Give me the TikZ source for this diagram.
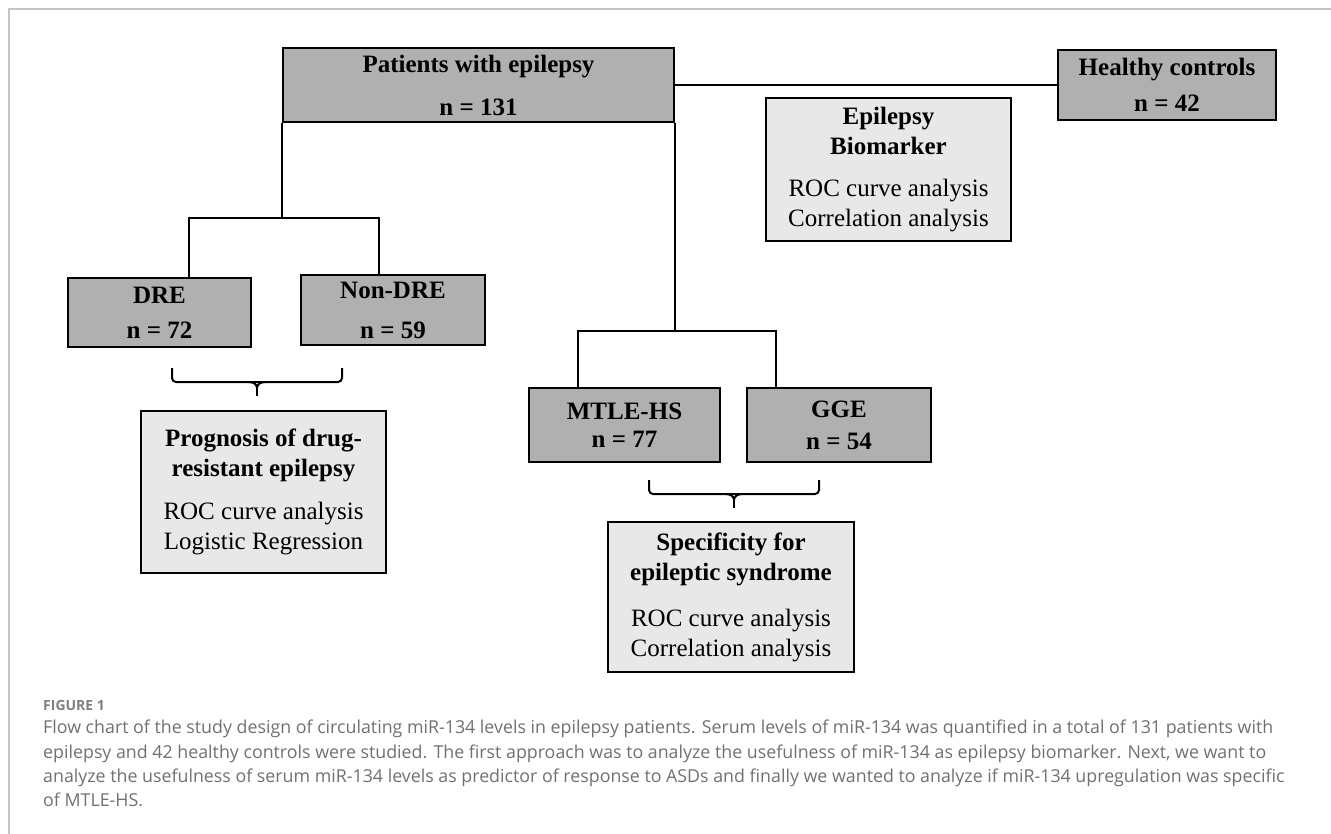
\documentclass[tikz,border=0pt]{standalone}
\usepackage{fontspec}
\setmainfont{Liberation Serif}
\newfontfamily\captionfont{Open Sans}
\usetikzlibrary{positioning}
\definecolor{boxdark}{RGB}{176,176,176}
\definecolor{boxlight}{RGB}{232,232,232}
\definecolor{framegray}{RGB}{195,195,195}
\definecolor{captiongray}{RGB}{112,112,112}

\begin{document}
\begin{tikzpicture}[x=1pt,y=-1pt,
    group/.style={draw=black,line width=2.4pt,fill=boxdark,inner sep=0pt,align=center,
      font=\fontsize{25}{30}\selectfont\bfseries},
    result/.style={draw=black,line width=2.4pt,fill=boxlight,inner sep=0pt,align=center,
      font=\fontsize{25}{30}\selectfont},
    link/.style={line width=2.2pt},
    bracket/.style={line width=2pt,rounded corners=4pt}]
  \useasboundingbox (0,0) rectangle (1331,834);
  \draw[framegray,line width=1.2pt] (1331,9) -- (9,9) -- (9,834);

  % cohorts
  \node[group,minimum width=391pt,minimum height=74pt] (pat) at (478.5,85) {Patients with epilepsy\\[13pt]n = 131};
  \node[group,minimum width=218pt,minimum height=70pt] (hc) at (1167,85) {Healthy controls\\[6pt]n = 42};
  \node[group,minimum width=183pt,minimum height=69pt] (dre) at (159.5,312.5) {DRE\\[5pt]n = 72};
  \node[group,minimum width=184pt,minimum height=70pt] (nondre) at (393,310) {Non-DRE\\[10pt]n = 59};
  \node[group,minimum width=191pt,minimum height=74pt] (mtle) at (624.5,425) {MTLE-HS\\[-2pt]n = 77};
  \node[group,minimum width=184pt,minimum height=74pt] (gge) at (839,425) {GGE\\[2pt]n = 54};

  % analyses
  \node[result,minimum width=245pt,minimum height=143pt] (bio) at (888.5,169.5)
    {\textbf{Epilepsy}\\\textbf{Biomarker}\\[12pt]ROC curve analysis\\Correlation analysis};
  \node[result,minimum width=245pt,minimum height=162pt] (prog) at (263.5,492)
    {\textbf{Prognosis of drug-}\\\textbf{resistant epilepsy}\\[13pt]ROC curve analysis\\Logistic Regression};
  \node[result,minimum width=246pt,minimum height=150pt] (spec) at (731,597)
    {\textbf{Specificity for}\\\textbf{epileptic syndrome}\\[16pt]ROC curve analysis\\Correlation analysis};

  % tree
  \draw[link] (pat.east) -- (hc.west);
  \draw[link] (pat.south west) -- ++(0,95) coordinate (splitL);
  \draw[link] ([xshift=29.5pt]dre.north) |- (splitL) -| ([xshift=-14pt]nondre.north);
  \draw[link] (pat.south east) -- ++(0,208) coordinate (splitR);
  \draw[link] ([xshift=-46.5pt]mtle.north) |- (splitR) -| ([xshift=-63pt]gge.north);

  % braces
  \foreach \l/\r/\t in {172/342/368,649/819/480}{
    \pgfmathsetmacro\m{(\l+\r)/2}
    \draw[bracket] (\l,\t) |- (\m,\t+14) -| (\r,\t);
    \draw[line width=2pt] (\m-8,\t+14) to[out=0,in=90] (\m,\t+20) to[out=90,in=180] (\m+8,\t+14);
    \draw[line width=2pt] (\m,\t+19) -- (\m,\t+28);
  }

  % caption
  \node[anchor=base west,inner sep=0pt,text=captiongray!90,font=\captionfont\bfseries\fontsize{14}{16}\selectfont] (fig) at (43,710) {FIGURE 1};
  \node[anchor=north west,inner sep=0pt,text=captiongray,align=left,
    font=\captionfont\fontsize{17.8}{24.3}\selectfont] (caption) at (43,720)
    {Flow chart of the study design of circulating miR-134 levels in epilepsy patients. Serum levels of miR-134 was quantified in a total of 131 patients with\\
     epilepsy and 42 healthy controls were studied. The first approach was to analyze the usefulness of miR-134 as epilepsy biomarker. Next, we want to\\
     analyze the usefulness of serum miR-134 levels as predictor of response to ASDs and finally we wanted to analyze if miR-134 upregulation was specific\\
     of MTLE-HS.};
\end{tikzpicture}
\end{document}
